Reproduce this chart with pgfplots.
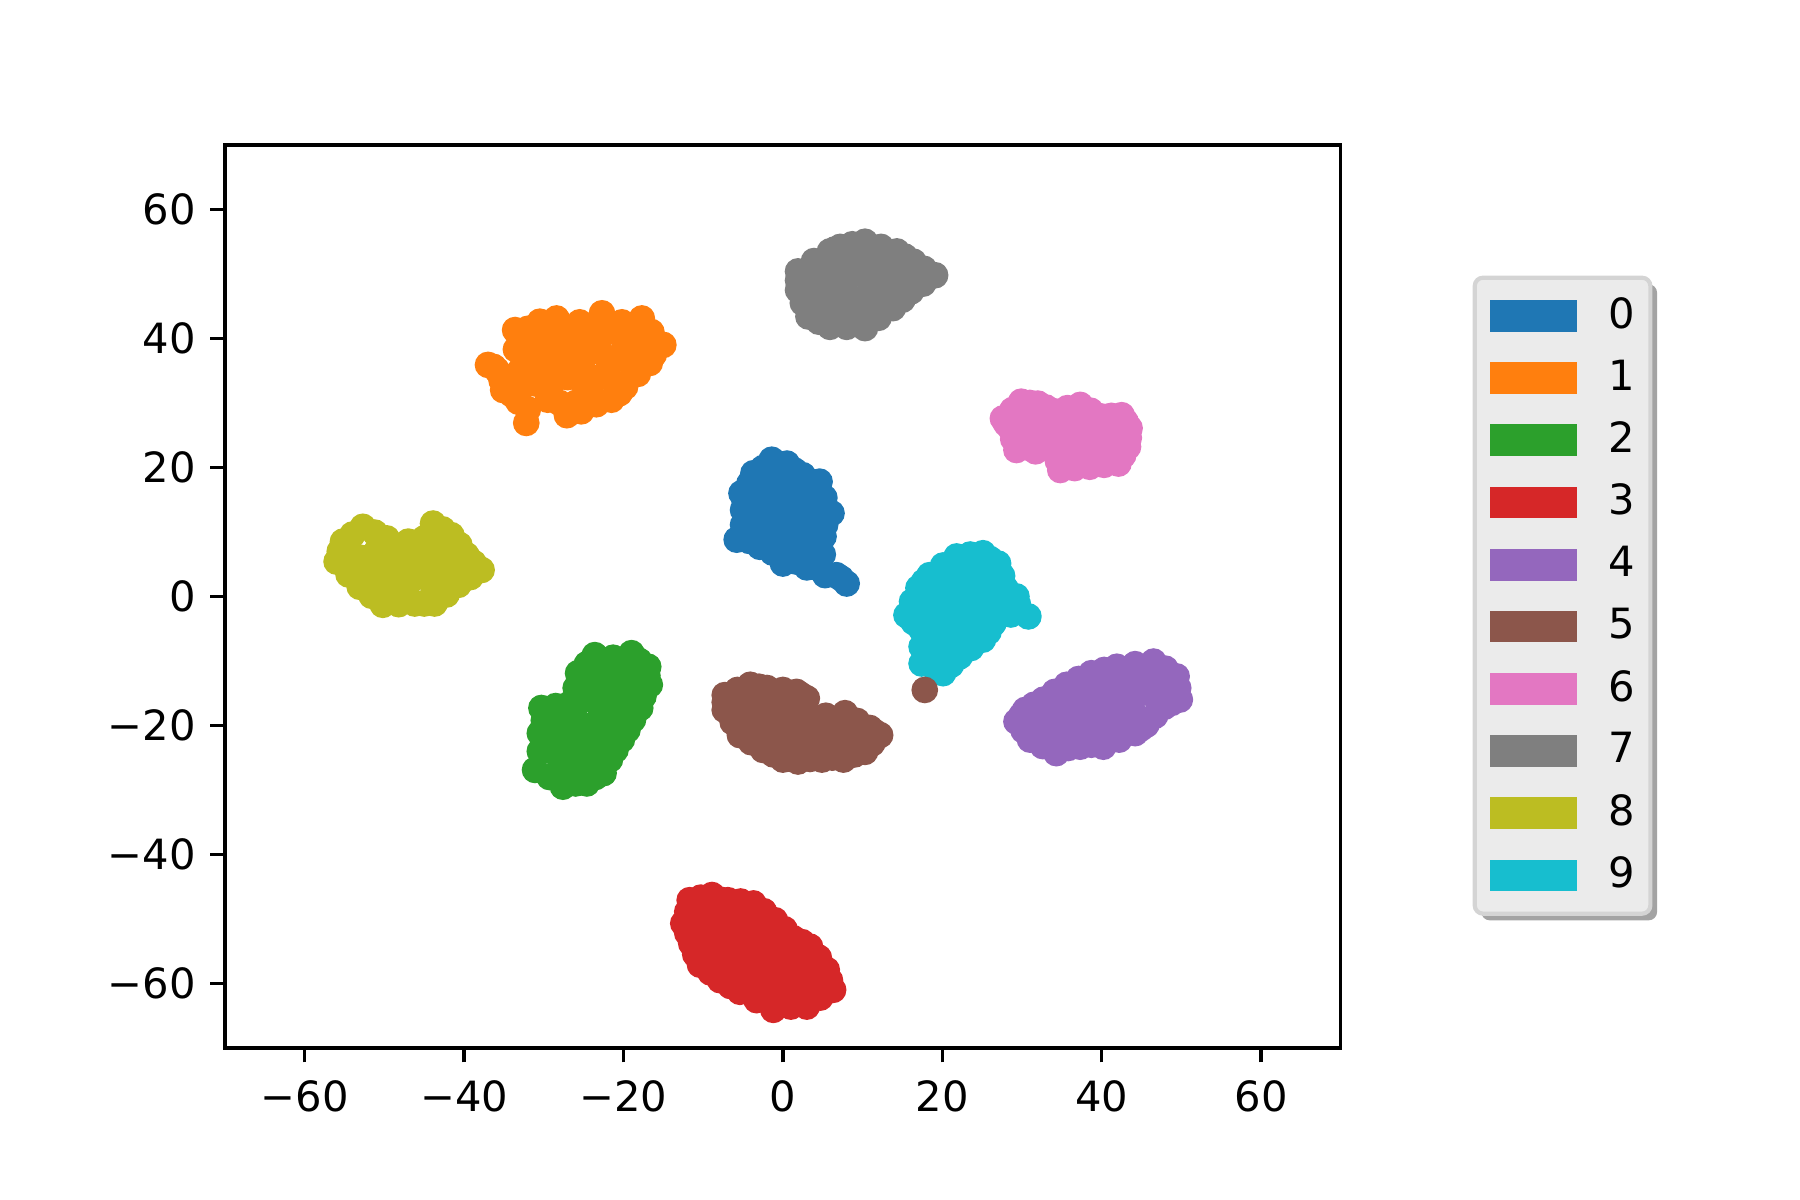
\documentclass[border=0pt]{standalone}
\usepackage{fontspec}
\setmainfont{DejaVu Sans}
\usepackage{pgfplots}
\pgfplotsset{compat=1.18}

\definecolor{c0}{HTML}{1F77B4}
\definecolor{c1}{HTML}{FF7F0E}
\definecolor{c2}{HTML}{2CA02C}
\definecolor{c3}{HTML}{D62728}
\definecolor{c4}{HTML}{9467BD}
\definecolor{c5}{HTML}{8C564B}
\definecolor{c6}{HTML}{E377C2}
\definecolor{c7}{HTML}{7F7F7F}
\definecolor{c8}{HTML}{BCBD22}
\definecolor{c9}{HTML}{17BECF}
\definecolor{legface}{HTML}{EBEBEB}
\definecolor{legedge}{HTML}{D4D4D4}
\definecolor{legshadow}{HTML}{A3A3A3}

\pgfdeclarelayer{background}
\pgfsetlayers{background,main}

\pgfplotsset{clus/.style={only marks, mark=*, mark size=3pt, color=#1, mark options={draw=none, fill=#1}}}

\begin{document}
\begin{tikzpicture}
\path[use as bounding box] (0,0) rectangle (432pt,288pt);
\begin{axis}[
  at={(54pt,36.5pt)}, anchor=south west,
  width=267.8pt, height=216.7pt, scale only axis,
  xmin=-70, xmax=70, ymin=-70, ymax=70,
  xtick={-60,-40,-20,0,20,40,60},
  ytick={-60,-40,-20,0,20,40,60},
  xticklabels={−60,−40,−20,0,20,40,60},
  yticklabels={−60,−40,−20,0,20,40,60},
  xtick pos=bottom, ytick pos=left,
  tick align=outside, major tick length=3.5pt,
  every tick/.style={black, line width=0.8pt},
  axis line style={line width=0.8pt},
  tick label style={font=\fontsize{10}{12}\selectfont},
  xticklabel style={yshift=-0.8pt},
  legend image code/.code={\fill[#1] (0pt,-3.6pt) rectangle (20.4pt,3.6pt); \path (28pt,0pt);},
  legend style={at={(1.12,0.853)}, anchor=north west, name=leg,
    font=\fontsize{10}{12}\selectfont, draw=none, fill=none,
    inner xsep=3.5pt, inner ysep=4.5pt, row sep=6.06pt,
    nodes={inner sep=0pt}},
  legend cell align=left,
]
% 0
\addplot[clus=c0] coordinates {
(-1.4,21.2) (0.5,20.6) (2.5,18.8) (4.6,17.8) (6.1,12.9) (5.1,9.3) (5.3,3.3) (8.0,2.0) (6.7,3.3)
(0.0,5.1) (-2.9,7.7) (-5.8,8.8) (-5.0,13.4) (-5.2,16.0) (-3.7,19.1) (3.4,5.1)
(-0.5,20.5) (1.5,19.5) (3.5,17.8) (5.2,15.3) (5.3,11.1) (5.0,6.5) (7.3,2.8) (4.3,4.5) (1.7,5.4)
(-1.3,6.8) (-4.2,8.6) (-5.0,11.1) (-4.8,14.7) (-4.2,17.5) (-2.5,19.9)
(-3,17) (-1,18) (1,17) (3,16) (-3,14) (-1,15) (1,14) (3,13) (5,14) (-4,11) (-2,12) (0,11)
(2,10) (4,11) (-3,9) (-1,8) (1,7) (3,8) (2,6) (4,7) (-1,11) (1,12)
(0,16) (2,15) (-2,16) (0,13) (2,12) (4,9) (0,9) (-2,10) (3,4.5)};
\addlegendentry{0}
% 1
\addplot[clus=c1] coordinates {
(-37.0,35.9) (-33.6,41.3) (-30.5,42.6) (-28.4,43.1) (-22.7,43.9) (-17.7,43.1) (-15.0,39.0)
(-16.7,36.2) (-19.8,32.5) (-21.5,30.5) (-25.3,28.7) (-27.1,28.1) (-32.2,26.9) (-33.2,30.2)
(-35.1,32.0) (-35.9,35.1)
(-33.5,38.3) (-32,41.5) (-25.5,42.5) (-20.2,42.5) (-16.5,41) (-16.2,37.5) (-18.2,34.5)
(-20.5,31.5) (-23.4,29.8) (-29.5,30.5) (-32,29) (-34,31.3) (-35.3,33.5) (-36.3,35.6)
(-32,38) (-30,40) (-28,41) (-26,40) (-24,41) (-22,41) (-20,40) (-18,38) (-33,35) (-31,36)
(-29,37) (-27,37) (-25,37) (-23,38) (-21,37) (-19,36) (-31,33) (-29,33) (-27,34) (-25,33)
(-23,34) (-21,33) (-28,30) (-24,31) (-26,30) (-33,32)
(-30,35) (-26,35) (-22,35) (-18,40) (-24,39) (-28,39)};
\addlegendentry{1}
% 2
\addplot[clus=c2] coordinates {
(-23.6,-9.1) (-19.0,-8.8) (-16.9,-10.9) (-16.7,-13.7) (-17.9,-17.3) (-18.8,-19.1) (-20.2,-22.2)
(-21.7,-25.3) (-22.5,-27.4) (-24.6,-29.0) (-27.6,-29.5) (-31.1,-26.9) (-30.5,-21.2) (-30.3,-17.3)
(-26.7,-16.6) (-25.7,-11.9)
(-21.3,-9.5) (-18,-10) (-17,-12.3) (-17.5,-15.5) (-19.5,-20.7) (-21,-23.8) (-23.5,-28)
(-26,-29) (-29.3,-28) (-30.5,-24) (-30,-19.2) (-28.5,-17) (-26,-14.2) (-24.6,-10.5)
(-28,-27) (-26,-27) (-24,-26) (-22,-24) (-29,-24) (-27,-24) (-25,-23) (-23,-22) (-21,-20)
(-29,-21) (-27,-20) (-25,-20) (-23,-19) (-21,-17) (-19,-15) (-28,-18) (-26,-17) (-24,-16)
(-22,-14) (-20,-12) (-18,-12) (-24,-13) (-22,-11) (-20,-10)
(-27,-22) (-25,-25) (-23,-17) (-21,-14) (-19,-17) (-23,-25)};
\addlegendentry{2}
% 3
\addplot[clus=c3] coordinates {
(-11.7,-47.1) (-8.9,-46.3) (-6.9,-47.1) (-3.7,-47.6) (-1.0,-50.2) (1.3,-53.0) (3.4,-54.3)
(5.5,-57.9) (6.3,-61.0) (3.0,-63.6) (-1.2,-64.1) (-5.4,-61.3) (-7.9,-59.5) (-10.4,-57.1)
(-11.5,-53.8) (-12.5,-50.7)
(-10.3,-46.7) (-7.9,-47) (-5.3,-47.3) (-2.4,-48.8) (0.2,-51.6) (2.4,-53.6) (4.5,-56) (5.9,-59.5)
(4.7,-62.2) (1,-63.6) (-3.3,-62.6) (-6.6,-60.4) (-9.1,-58.3) (-11,-55.5) (-12,-52.2) (-12,-48.9)
(-10,-49) (-8,-48) (-6,-49) (-4,-49) (-10,-52) (-8,-51) (-6,-52) (-4,-52) (-2,-52) (-9,-55)
(-7,-54) (-5,-55) (-3,-55) (-1,-55) (1,-55) (-7,-57) (-5,-58) (-3,-58) (-1,-58) (1,-58)
(3,-57) (-3,-61) (-1,-61) (1,-61) (3,-60) (5,-60) (-5,-60)
(-8,-53) (-4,-54) (0,-53) (-2,-57) (2,-59) (-6,-56)};
\addlegendentry{3}
% 4
\addplot[clus=c4] coordinates {
(29.3,-19.4) (30.4,-17.6) (32.7,-16.0) (35.6,-13.7) (38.7,-11.9) (41.9,-10.9) (46.5,-10.1)
(49.4,-12.4) (49.8,-16.0) (47.9,-17.1) (45.6,-19.9) (44.2,-21.2) (40.2,-23.3) (37.3,-23.3)
(34.3,-24.3) (31.0,-22.2)
(29.9,-18.5) (31.5,-16.8) (34.1,-14.8) (37.1,-12.8) (40.3,-11.4) (44.2,-10.5) (48,-11.2)
(49.6,-14.2) (48.8,-16.5) (46.7,-18.5) (44.9,-20.5) (42.2,-22.2) (38.7,-23) (35.8,-23.5)
(32.6,-23.2) (30.2,-20.8)
(32,-20) (34,-18) (34,-21) (36,-16) (36,-19) (36,-22) (38,-14) (38,-17) (38,-20) (40,-13)
(40,-16) (40,-19) (40,-22) (42,-13) (42,-16) (42,-19) (44,-12) (44,-15) (44,-18) (46,-12)
(46,-15) (48,-14)
(33,-19) (37,-18) (39,-15) (41,-17) (43,-14) (45,-13) (35,-20)};
\addlegendentry{4}
% 5
\addplot[clus=c5] coordinates {
(-7.3,-15.3) (-4.1,-13.7) (-2.0,-14.2) (1.7,-14.8) (3.0,-15.8) (7.8,-18.1) (10.9,-20.4)
(12.2,-21.5) (10.3,-24.1) (7.6,-25.3) (4.9,-25.3) (1.9,-25.6) (0.0,-25.3) (-2.5,-23.8)
(-5.4,-21.5) (-7.3,-17.6)
(-5.7,-14.5) (-3,-14) (0,-14.5) (2.3,-15.3) (5.4,-18.5) (9.3,-19.3) (11.5,-21) (11.2,-22.8)
(9,-24.5) (6.2,-25) (3.4,-25.2) (1,-25.2) (-1.2,-24.5) (-4,-22.6) (-6.3,-19.5) (-7.3,-16.4)
(-5,-16) (-3,-16) (-1,-16) (1,-17) (3,-18) (-6,-19) (-4,-19) (-2,-19) (0,-19) (2,-20)
(4,-20) (6,-20) (8,-20) (-3,-22) (-1,-22) (1,-22) (3,-23) (5,-22) (7,-23) (9,-22)
(11,-22) (-1,-24) (5,-24)
(-3,-17.5) (1,-18.5) (-5,-21) (3,-21) (7,-21) (-1,-20.5)};
\addlegendentry{5}
% 6
\addplot[clus=c6] coordinates {
(27.6,27.6) (29.9,30.2) (32.0,29.9) (34.1,28.7) (37.3,29.7) (40.0,27.9) (42.5,28.1) (43.5,26.1)
(43.3,23.2) (42.1,20.6) (38.5,20.1) (34.8,19.6) (34.1,22.4) (29.3,22.7) (28.5,26.1)
(28.8,28.9) (31,30) (33,29.3) (35.7,29.2) (38.6,28.8) (41.2,28) (43,27.1) (43.4,24.6)
(42.7,21.9) (40.3,20.4) (36.6,19.9) (34.5,21) (31.7,22.5) (28.9,24.4) (28,26.8)
(30,28) (32,27) (30,25) (32,25) (34,26) (36,27) (38,27) (40,26) (42,25) (36,24)
(38,24) (40,24) (42,23) (36,22) (38,22) (40,22) (33,24) (31,23)
(35,25.5) (37,25.5) (39,25) (41,26.5)};
\addlegendentry{6}
% 7
\addplot[clus=c7] coordinates {
(1.9,50.4) (1.9,47.5) (3.2,43.4) (5.9,41.8) (10.3,41.6) (13.8,44.7) (16.1,47.3) (19.1,49.8)
(16.4,51.9) (14.3,53.5) (10.3,55.0) (7.2,54.2) (5.9,53.5) (7.4,42.6)
(1.9,49) (2.5,45.5) (4.5,42.6) (8,41.8) (12,43.2) (15,46) (17.6,48.5) (17.7,50.8) (15.3,52.7)
(12.3,54.2) (8.7,54.6) (6.5,53.8) (3.9,52)
(4,51) (6,52) (8,53) (10,53) (12,52) (14,51) (16,50) (4,48) (6,49) (8,50)
(10,50) (12,49) (14,48) (4,45) (6,46) (8,47) (10,46) (12,46) (8,44) (10,44)
(6,44) (11,48) (9,51.5) (13,50)};
\addlegendentry{7}
% 8
\addplot[clus=c8] coordinates {
(-56.0,5.4) (-55.2,8.5) (-52.7,10.8) (-49.7,9.0) (-43.9,11.3) (-41.6,9.5) (-39.7,6.4)
(-37.8,4.1) (-40.7,1.8) (-43.7,-1.1) (-46.2,-1.1) (-50.2,-1.3) (-53.1,1.5)
(-55.6,7) (-54,9.6) (-51.2,9.9) (-47,8.5) (-42.7,10.4) (-40.6,8) (-38.8,5.2) (-39.2,3)
(-42.2,0.3) (-45,-1.1) (-48.2,-1.2) (-51.6,0.1) (-54.5,3.4)
(-53,6) (-51,7) (-49,7) (-47,8) (-45,9) (-43,9) (-41,7) (-51,4) (-49,4) (-47,5)
(-45,6) (-43,6) (-41,5) (-39,5) (-51,1) (-49,2) (-47,2) (-45,3) (-43,3) (-41,3)
(-48,0) (-44,0)
(-53,3.5) (-46,5) (-44,4.5) (-50,5.5) (-42,7.5)};
\addlegendentry{8}
% 9
\addplot[clus=c9] coordinates {
(25.1,6.7) (27.0,5.1) (21.8,6.2) (18.4,3.3) (17.0,1.3) (15.5,-2.9) (17.4,-5.2) (17.4,-10.4)
(20.1,-11.9) (22.2,-9.3) (25.1,-6.7) (26.4,-4.2) (27.9,1.3) (29.5,-1.3) (30.8,-3.1)
(23.5,6.5) (20.1,4.8) (17.7,2.3) (16.2,-0.8) (16.4,-4) (17.4,-7.8) (19,-11) (21.1,-10.6)
(23.6,-8) (25.8,-5.5) (28.6,-2.8) (29.3,0) (27.5,3.2) (26,5.8)
(20,4) (22,5) (24,5) (26,4) (19,2) (21,2) (23,2) (25,2) (27,2) (18,-1)
(20,-1) (22,-1) (24,-1) (26,-1) (28,-2) (19,-4) (21,-4) (23,-4) (25,-4) (19,-7)
(21,-7) (23,-7) (19,-9) (20,-10)
(22,3.5) (24,3.5) (20,-5.5) (22,-5.5) (24,-2.5) (21,-8.5)};
\addlegendentry{9}
% stray point of class 5, drawn on top
\addplot[clus=c5, forget plot] coordinates {(17.8,-14.5)};
\end{axis}
\begin{pgfonlayer}{background}
\fill[legshadow, rounded corners=2pt] ([shift={(1.6pt,-1.6pt)}]leg.south west) rectangle ([shift={(1.6pt,-1.6pt)}]leg.north east);
\filldraw[fill=legface, draw=legedge, line width=1pt, rounded corners=2pt] (leg.south west) rectangle (leg.north east);
\end{pgfonlayer}
\end{tikzpicture}
\end{document}
